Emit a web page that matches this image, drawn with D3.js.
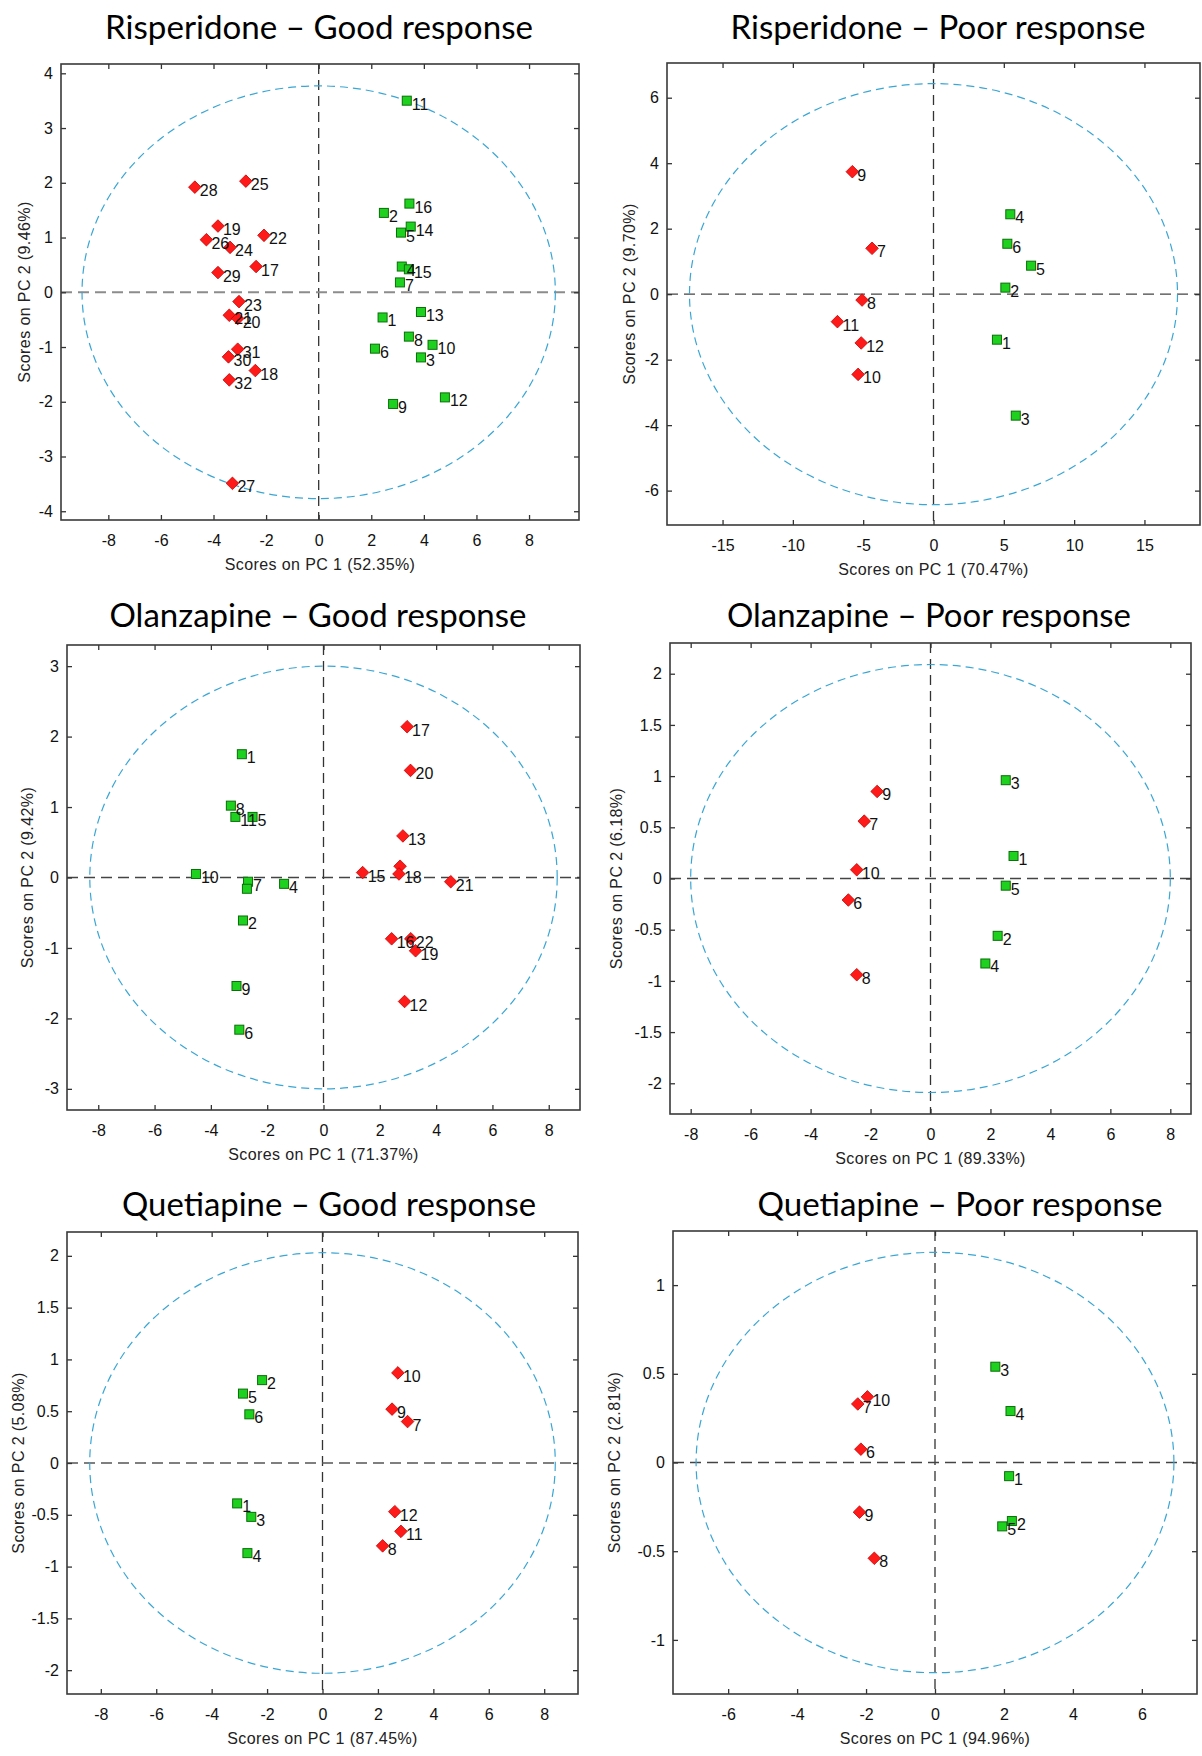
<!DOCTYPE html>
<html>
<head>
<meta charset="utf-8">
<script src="https://cdn.jsdelivr.net/npm/d3@7"></script>
<style>
  html, body { margin: 0; padding: 0; background: #fff; }
  svg { display: block; }
</style>
</head>
<body>
<svg id="chart" width="1202" height="1756"></svg>
<script>
// ---------------- DATA ----------------
// Each point: [label, PC1 score, PC2 score]
const risGoodRed = [
  ["28", -4.71, 1.92], ["25", -2.77, 2.03], ["19", -3.83, 1.21], ["26", -4.27, 0.96],
  ["24", -3.37, 0.82], ["22", -2.08, 1.04], ["17", -2.38, 0.47], ["29", -3.83, 0.36],
  ["23", -3.03, -0.17], ["21", -3.40, -0.42], ["20", -3.08, -0.48], ["31", -3.08, -1.04],
  ["30", -3.43, -1.18], ["18", -2.41, -1.43], ["32", -3.40, -1.60], ["27", -3.28, -3.49]
];
const risGoodGreen = [
  ["11", 3.35, 3.50], ["16", 3.45, 1.62], ["2", 2.48, 1.45], ["14", 3.50, 1.20],
  ["5", 3.13, 1.09], ["4", 3.16, 0.47], ["15", 3.43, 0.42], ["7", 3.09, 0.18],
  ["1", 2.43, -0.46], ["13", 3.89, -0.36], ["8", 3.43, -0.81], ["10", 4.33, -0.96],
  ["6", 2.14, -1.03], ["3", 3.89, -1.19], ["12", 4.80, -1.92], ["9", 2.83, -2.04]
];
const risPoorRed = [
  ["9", -5.77, 3.74], ["7", -4.37, 1.40], ["8", -5.08, -0.18], ["11", -6.83, -0.84],
  ["12", -5.14, -1.49], ["10", -5.36, -2.45]
];
const risPoorGreen = [
  ["4", 5.46, 2.44], ["6", 5.25, 1.54], ["5", 6.94, 0.87], ["2", 5.11, 0.20],
  ["1", 4.51, -1.39], ["3", 5.85, -3.71]
];
const olaGoodRed = [
  ["17", 2.97, 2.14], ["20", 3.09, 1.52], ["13", 2.82, 0.59], ["15", 1.39, 0.07],
  ["", 2.72, 0.16], ["18", 2.68, 0.05], ["21", 4.52, -0.06], ["16", 2.42, -0.87],
  ["22", 3.10, -0.87], ["19", 3.27, -1.04], ["12", 2.88, -1.76]
];
const olaGoodGreen = [
  ["1", -2.90, 1.75], ["8", -3.29, 1.02], ["11", -3.13, 0.86], ["5", -2.52, 0.86],
  ["10", -4.53, 0.05], ["7", -2.68, -0.06], ["", -2.72, -0.16], ["4", -1.40, -0.09],
  ["2", -2.86, -0.61], ["9", -3.09, -1.54], ["6", -2.99, -2.16]
];
const olaPoorRed = [
  ["9", -1.78, 0.85], ["7", -2.21, 0.56], ["10", -2.46, 0.085], ["6", -2.74, -0.21],
  ["8", -2.46, -0.94]
];
const olaPoorGreen = [
  ["3", 2.51, 0.96], ["1", 2.77, 0.22], ["5", 2.51, -0.07], ["2", 2.24, -0.56],
  ["4", 1.83, -0.83]
];
const quetGoodRed = [
  ["10", 2.72, 0.87], ["9", 2.51, 0.52], ["7", 3.07, 0.40], ["12", 2.61, -0.47],
  ["11", 2.83, -0.66], ["8", 2.17, -0.80]
];
const quetGoodGreen = [
  ["2", -2.18, 0.80], ["5", -2.87, 0.67], ["6", -2.64, 0.47], ["1", -3.08, -0.39],
  ["3", -2.57, -0.52], ["4", -2.71, -0.87]
];
const quetPoorRed = [
  ["7", -2.24, 0.33], ["10", -1.96, 0.37], ["6", -2.15, 0.075], ["9", -2.19, -0.28],
  ["8", -1.76, -0.54]
];
const quetPoorGreen = [
  ["3", 1.75, 0.54], ["4", 2.19, 0.29], ["1", 2.15, -0.077], ["2", 2.23, -0.33],
  ["5", 1.95, -0.36]
];

const titles = [
  "Risperidone – Good response", "Risperidone – Poor response",
  "Olanzapine – Good response", "Olanzapine – Poor response",
  "Quetiapine – Good response", "Quetiapine – Poor response"
];
const xTitles = [
  "Scores on PC 1 (52.35%)", "Scores on PC 1 (70.47%)", "Scores on PC 1 (71.37%)",
  "Scores on PC 1 (89.33%)", "Scores on PC 1 (87.45%)", "Scores on PC 1 (94.96%)"
];
const yTitles = [
  "Scores on PC 2 (9.46%)", "Scores on PC 2 (9.70%)", "Scores on PC 2 (9.42%)",
  "Scores on PC 2 (6.18%)", "Scores on PC 2 (5.08%)", "Scores on PC 2 (2.81%)"
];
const xTicks = [
  [-8, -6, -4, -2, 0, 2, 4, 6, 8],
  [-15, -10, -5, 0, 5, 10, 15],
  [-8, -6, -4, -2, 0, 2, 4, 6, 8],
  [-8, -6, -4, -2, 0, 2, 4, 6, 8],
  [-8, -6, -4, -2, 0, 2, 4, 6, 8],
  [-6, -4, -2, 0, 2, 4, 6]
];
const yTicks = [
  [-4, -3, -2, -1, 0, 1, 2, 3, 4],
  [-6, -4, -2, 0, 2, 4, 6],
  [-3, -2, -1, 0, 1, 2, 3],
  [-2, -1.5, -1, -0.5, 0, 0.5, 1, 1.5, 2],
  [-2, -1.5, -1, -0.5, 0, 0.5, 1, 1.5, 2],
  [-1, -0.5, 0, 0.5, 1]
];
// axis extents [min, max]
const xDomains = [[-9.8, 9.9], [-18.95, 18.95], [-9.11, 9.11], [-8.69, 8.69], [-9.22, 9.22], [-7.6, 7.6]];
const yDomains = [[-4.16, 4.17], [-7.05, 7.06], [-3.30, 3.30], [-2.30, 2.30], [-2.23, 2.23], [-1.305, 1.305]];
// 95% confidence ellipse semi-axes [PC1, PC2]
const ellipseRadii = [[9.0, 3.77], [17.35, 6.43], [8.3, 3.0], [8.0, 2.09], [8.4, 2.03], [6.93, 1.185]];

const redSets = [risGoodRed, risPoorRed, olaGoodRed, olaPoorRed, quetGoodRed, quetPoorRed];
const greenSets = [risGoodGreen, risPoorGreen, olaGoodGreen, olaPoorGreen, quetGoodGreen, quetPoorGreen];

// ---------------- LAYOUT ----------------
const layout = [
  {L: 61,  R: 579,  T: 64,   B: 520,  tx: 319, ty: 39,   tw: 428, yt: 31},
  {L: 667, R: 1200, T: 63,   B: 525,  tx: 938, ty: 39,   tw: 415, yt: 32},
  {L: 67,  R: 580,  T: 645,  B: 1110, tx: 318, ty: 627,  tw: 417, yt: 34},
  {L: 670, R: 1191, T: 643,  B: 1114, tx: 929, ty: 627,  tw: 404, yt: 48},
  {L: 67,  R: 578,  T: 1232, B: 1694, tx: 329, ty: 1216, tw: 414, yt: 43},
  {L: 673, R: 1197, T: 1231, B: 1694, tx: 960, ty: 1216, tw: 405, yt: 53}
];
const hZeroColor = ["#8c8c8c", "#444", "#444", "#444", "#555", "#444"];

const svg = d3.select("#chart");
const FONT = "'Liberation Sans', Arial, sans-serif";
const fmt = d => String(d);

layout.forEach((lay, i) => {
  const x = d3.scaleLinear().domain(xDomains[i]).range([lay.L, lay.R]);
  const y = d3.scaleLinear().domain(yDomains[i]).range([lay.B, lay.T]);
  const g = svg.append("g");

  const clipId = "clip" + i;
  svg.append("clipPath").attr("id", clipId).append("rect")
    .attr("x", lay.L).attr("y", lay.T).attr("width", lay.R - lay.L).attr("height", lay.B - lay.T);

  // title
  g.append("text")
    .attr("x", lay.tx).attr("y", lay.ty)
    .attr("text-anchor", "middle")
    .attr("textLength", lay.tw).attr("lengthAdjust", "spacingAndGlyphs")
    .style("font-family", "Lato, 'Open Sans', sans-serif")
    .style("font-size", "32px").style("fill", "#000")
    .text(titles[i]);

  const inner = g.append("g").attr("clip-path", `url(#${clipId})`);

  // zero lines
  inner.append("line")
    .attr("x1", x(0)).attr("x2", x(0)).attr("y1", lay.T).attr("y2", lay.B)
    .attr("stroke", "#333").attr("stroke-width", 1.3).attr("stroke-dasharray", "10,6");
  inner.append("line")
    .attr("x1", lay.L).attr("x2", lay.R).attr("y1", y(0)).attr("y2", y(0))
    .attr("stroke", hZeroColor[i]).attr("stroke-width", i === 0 ? 1.8 : 1.3).attr("stroke-dasharray", "11,6");

  // confidence ellipse
  const [erx, ery] = ellipseRadii[i];
  inner.append("ellipse")
    .attr("cx", x(0)).attr("cy", y(0))
    .attr("rx", x(erx) - x(0)).attr("ry", y(0) - y(ery))
    .attr("fill", "none").attr("stroke", "#3aa6d4").attr("stroke-width", 1.2)
    .attr("stroke-dasharray", "8,5");

  // axes (inward ticks on all four sides)
  const axB = g.append("g").attr("transform", `translate(0,${lay.B})`)
    .call(d3.axisBottom(x).tickValues(xTicks[i]).tickFormat(fmt).tickSizeInner(-5).tickSizeOuter(0).tickPadding(15));
  const axT = g.append("g").attr("transform", `translate(0,${lay.T})`)
    .call(d3.axisTop(x).tickValues(xTicks[i]).tickFormat("").tickSizeInner(-5).tickSizeOuter(0));
  const axL = g.append("g").attr("transform", `translate(${lay.L},0)`)
    .call(d3.axisLeft(y).tickValues(yTicks[i]).tickFormat(fmt).tickSizeInner(-5).tickSizeOuter(0).tickPadding(8));
  const axR = g.append("g").attr("transform", `translate(${lay.R},0)`)
    .call(d3.axisRight(y).tickValues(yTicks[i]).tickFormat("").tickSizeInner(-5).tickSizeOuter(0));
  [axB, axT, axL, axR].forEach(a => {
    a.select(".domain").remove();
    a.selectAll(".tick line").attr("stroke", "#333").attr("stroke-width", 1.3);
    a.selectAll(".tick text").style("font-family", FONT).style("font-size", "16px").attr("fill", "#111");
  });

  // frame
  g.append("rect")
    .attr("x", lay.L).attr("y", lay.T).attr("width", lay.R - lay.L).attr("height", lay.B - lay.T)
    .attr("fill", "none").attr("stroke", "#3a3a3a").attr("stroke-width", 1.6);

  // axis titles
  g.append("text")
    .attr("x", (lay.L + lay.R) / 2).attr("y", lay.B + 50)
    .attr("text-anchor", "middle")
    .style("font-family", FONT).style("font-size", "16px").style("letter-spacing", "0.4px")
    .attr("fill", "#222").text(xTitles[i]);
  g.append("text")
    .attr("transform", `translate(${lay.L - lay.yt},${(lay.T + lay.B) / 2}) rotate(-90)`)
    .attr("text-anchor", "middle")
    .style("font-family", FONT).style("font-size", "16px").style("letter-spacing", "0.4px")
    .attr("fill", "#222").text(yTitles[i]);

  // points
  const pts = g.append("g");
  const diamond = s => `M0,${-s}L${s},0L0,${s}L${-s},0Z`;
  pts.selectAll("path.red").data(redSets[i]).join("path")
    .attr("class", "red")
    .attr("transform", d => `translate(${x(d[1])},${y(d[2])})`)
    .attr("d", diamond(6.3))
    .attr("fill", "#ff1a1a").attr("stroke", "#c40000").attr("stroke-width", 0.8);
  pts.selectAll("rect.green").data(greenSets[i]).join("rect")
    .attr("class", "green")
    .attr("x", d => x(d[1]) - 4.5).attr("y", d => y(d[2]) - 4.5)
    .attr("width", 9).attr("height", 9)
    .attr("fill", "#1fd11f").attr("stroke", "#0a6e0a").attr("stroke-width", 1);

  // point labels
  const all = redSets[i].concat(greenSets[i]);
  pts.selectAll("text.lbl").data(all).join("text")
    .attr("class", "lbl")
    .attr("x", d => x(d[1]) + 5).attr("y", d => y(d[2]) + 9)
    .style("font-family", FONT).style("font-size", "16px")
    .attr("fill", "#111")
    .text(d => d[0]);
});
</script>
</body>
</html>
